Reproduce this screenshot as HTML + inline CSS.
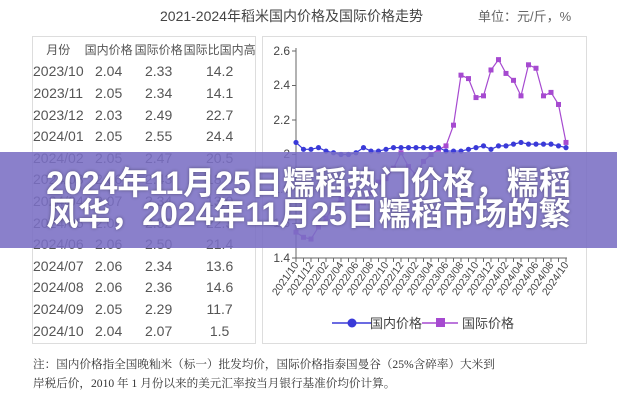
<!DOCTYPE html>
<html><head><meta charset="utf-8"><style>
body{margin:0;width:617px;height:400px;overflow:hidden;background:#fff;font-family:"Liberation Sans","Noto Sans CJK SC",sans-serif;position:relative}
.t{position:absolute;color:#444;font-size:13px;white-space:nowrap}
.box{position:absolute;border:1px solid #ddd}
.banner{position:absolute;left:0;top:152px;width:617px;height:96px;background:rgba(122,110,196,0.88);color:#fff;font-weight:bold;font-size:32px;text-align:center;line-height:31px;padding-top:16px;box-sizing:border-box;text-shadow:0 0 3px rgba(0,0,0,.4);font-family:"Liberation Sans","Noto Sans CJK SC",sans-serif;white-space:nowrap}
table{position:absolute;left:33px;top:39px;border-collapse:collapse;font-size:14px;color:#555}
td{height:21.6px;padding:0;text-align:center;white-space:nowrap}
</style></head><body>
<div class="t" style="left:160px;top:6px;font-size:14px">2021-2024年稻米国内价格及国际价格走势</div>
<div class="t" style="left:478px;top:6px;font-size:13px;color:#666">单位：元/斤，%</div>
<div class="box" style="left:32px;top:36px;width:222px;height:306px"></div>
<div class="box" style="left:262px;top:36px;width:323px;height:306px"></div>
<table>
<tr style="font-size:12px"><td style="width:48px">月份</td><td style="width:50px">国内价格</td><td style="width:50px">国际价格</td><td style="width:72px">国际比国内高</td></tr>
<tr><td>2023/10</td><td>2.04</td><td>2.33</td><td>14.2</td></tr>
<tr><td>2023/11</td><td>2.05</td><td>2.34</td><td>14.1</td></tr>
<tr><td>2023/12</td><td>2.03</td><td>2.49</td><td>22.7</td></tr>
<tr><td>2024/01</td><td>2.05</td><td>2.55</td><td>24.4</td></tr>
<tr><td>2024/02</td><td>2.05</td><td>2.47</td><td>20.5</td></tr>
<tr><td>2024/03</td><td>2.06</td><td>2.43</td><td>18.0</td></tr>
<tr><td>2024/04</td><td>2.07</td><td>2.34</td><td>13.0</td></tr>
<tr><td>2024/05</td><td>2.06</td><td>2.52</td><td>22.3</td></tr>
<tr><td>2024/06</td><td>2.06</td><td>2.50</td><td>21.4</td></tr>
<tr><td>2024/07</td><td>2.06</td><td>2.34</td><td>13.6</td></tr>
<tr><td>2024/08</td><td>2.06</td><td>2.36</td><td>14.6</td></tr>
<tr><td>2024/09</td><td>2.05</td><td>2.29</td><td>11.7</td></tr>
<tr><td>2024/10</td><td>2.04</td><td>2.07</td><td>1.5</td></tr>
</table>
<svg width="617" height="400" style="position:absolute;left:0;top:0" id="s">
<g font-size="12" fill="#444" text-anchor="end" font-family="Liberation Sans,sans-serif">
<text x="290" y="55">2.6</text><text x="290" y="89">2.4</text><text x="290" y="124">2.2</text><text x="290" y="158">2</text><text x="290" y="193">1.8</text><text x="290" y="227">1.6</text><text x="290" y="262">1.4</text>
</g>
<g font-size="10.5" fill="#444" text-anchor="end" font-family="Liberation Sans,sans-serif">
<text transform="translate(299,265) rotate(-55)">2021/10</text>
<text transform="translate(314,265) rotate(-55)">2021/12</text>
<text transform="translate(329,265) rotate(-55)">2022/02</text>
<text transform="translate(344,265) rotate(-55)">2022/04</text>
<text transform="translate(359,265) rotate(-55)">2022/06</text>
<text transform="translate(374,265) rotate(-55)">2022/08</text>
<text transform="translate(389,265) rotate(-55)">2022/10</text>
<text transform="translate(404,265) rotate(-55)">2022/12</text>
<text transform="translate(419,265) rotate(-55)">2023/02</text>
<text transform="translate(434,265) rotate(-55)">2023/04</text>
<text transform="translate(449,265) rotate(-55)">2023/06</text>
<text transform="translate(464,265) rotate(-55)">2023/08</text>
<text transform="translate(479,265) rotate(-55)">2023/10</text>
<text transform="translate(494,265) rotate(-55)">2023/12</text>
<text transform="translate(509,265) rotate(-55)">2024/02</text>
<text transform="translate(524,265) rotate(-55)">2024/04</text>
<text transform="translate(539,265) rotate(-55)">2024/06</text>
<text transform="translate(554,265) rotate(-55)">2024/08</text>
<text transform="translate(569,265) rotate(-55)">2024/10</text>
</g>
<g id="plot"></g>
<line x1="332" y1="323" x2="372" y2="323" stroke="#3a3ad8" stroke-width="1.5"/><circle cx="352" cy="323" r="4.5" fill="#3a3ad8"/>
<text x="370" y="328" font-size="13" fill="#444">国内价格</text>
<line x1="422" y1="323" x2="458" y2="323" stroke="#a64ad0" stroke-width="1.5"/><rect x="436" y="318" width="9" height="9" fill="#a64ad0"/>
<text x="462" y="328" font-size="13" fill="#444">国际价格</text>
</svg>
<div class="t" style="left:33px;top:356px;font-family:'Liberation Serif','Noto Serif CJK SC',serif;font-size:11.6px;color:#333">注：国内价格指全国晚籼米（标一）批发均价，国际价格指泰国曼谷（25%含碎率）大米到</div>
<div class="t" style="left:33px;top:375px;font-family:'Liberation Serif','Noto Serif CJK SC',serif;font-size:11.6px;color:#333">岸税后价，2010 年 1 月份以来的美元汇率按当月银行基准价均价计算。</div>
<div class="banner">2024年11月25日糯稻热门价格，糯稻<br>风华，2024年11月25日糯稻市场的繁</div>
<script>
var d=[2.07,2.03,2.03,2.04,2.02,2.01,2.00,2.00,2.01,2.04,2.02,2.02,2.03,2.04,2.04,2.04,2.04,2.04,2.04,2.04,2.02,2.02,2.02,2.03,2.04,2.05,2.03,2.05,2.05,2.06,2.07,2.06,2.06,2.06,2.06,2.05,2.04];
var f=[1.55,1.52,1.51,1.58,1.63,1.70,1.74,1.80,1.70,1.72,1.78,1.84,1.86,1.92,2.01,1.93,1.88,1.96,2.00,2.03,2.05,2.17,2.46,2.44,2.33,2.34,2.49,2.55,2.47,2.43,2.34,2.52,2.50,2.34,2.36,2.29,2.07];
var X=function(i){return 296+7.5*i},Y=function(v){return 258-(v-1.4)*172.5};
var h='<line x1="296" y1="48" x2="296" y2="258" stroke="#666"/><line x1="296" y1="258" x2="567" y2="258" stroke="#666"/>';
[2.6,2.4,2.2,2,1.8,1.6,1.4].forEach(function(v){h+='<line x1="292" x2="296" y1="'+Y(v)+'" y2="'+Y(v)+'" stroke="#666"/>'});
for(var i=0;i<37;i++)h+='<line x1="'+X(i)+'" x2="'+X(i)+'" y1="258" y2="262" stroke="#666"/>';
h+='<polyline fill="none" stroke="#a64ad0" stroke-width="1.2" points="'+f.map(function(v,i){return X(i)+','+Y(v)}).join(' ')+'"/>';
f.forEach(function(v,i){h+='<rect x="'+(X(i)-2.5)+'" y="'+(Y(v)-2.5)+'" width="5" height="5" fill="#a64ad0"/>'});
h+='<polyline fill="none" stroke="#3a3ad8" stroke-width="1.2" points="'+d.map(function(v,i){return X(i)+','+Y(v)}).join(' ')+'"/>';
d.forEach(function(v,i){h+='<circle cx="'+X(i)+'" cy="'+Y(v)+'" r="2.6" fill="#3a3ad8"/>'});
document.getElementById('plot').innerHTML=h;
</script>
</body></html>
